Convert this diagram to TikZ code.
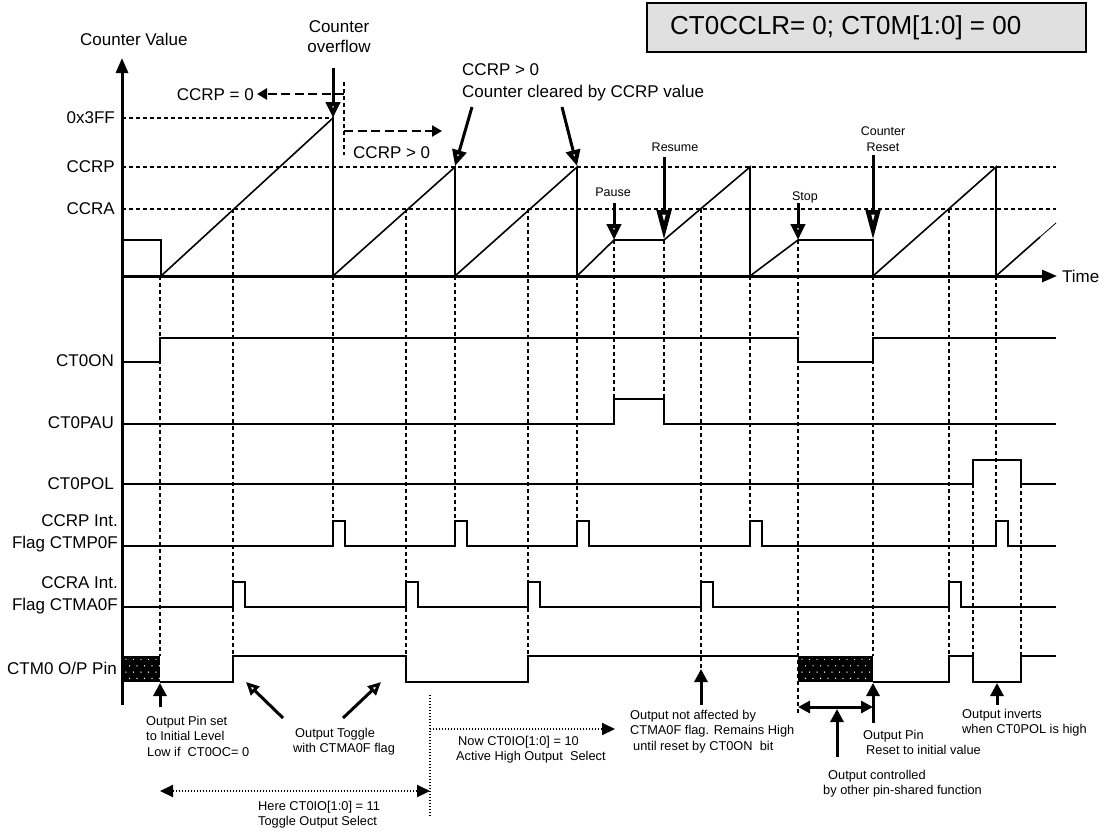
\documentclass[tikz,border=0pt]{standalone}
\usepackage{fontspec}
\setmainfont{Liberation Sans}
\usetikzlibrary{arrows.meta}
\begin{document}
\begin{tikzpicture}[x=1pt,y=-1pt,
  sig/.style={line width=1.4pt},
  saw/.style={line width=1.6pt},
  axis/.style={line width=3pt,-{Triangle[length=15pt,width=12pt]}},
  vdash/.style={line width=1.3pt,dash pattern=on 4pt off 3pt},
  tdash/.style={line width=2.6pt,dash pattern=on 9pt off 4.5pt},
  marker/.style={line width=3pt,-{Triangle[open,line width=4.5pt,length=16pt,width=14pt]}},
  longmarker/.style={line width=3pt,-{Triangle[open,line width=4.5pt,length=30pt,width=14pt]}},
  ann/.style={line width=3pt,-{Triangle[length=13pt,width=13pt]}},
  dotl/.style={line width=2pt,dash pattern=on 1.4pt off 1.6pt},
  lbl/.style={inner sep=0pt,font=\fontsize{17}{22}\selectfont},
  note/.style={inner sep=0pt,font=\fontsize{12.8}{15.5}\selectfont,align=left},
  tag/.style={inner sep=0pt,font=\fontsize{12.5}{16}\selectfont,align=center}]
\useasboundingbox (0,0) rectangle (1110,835);

% ---------- title box
\node[draw,line width=1.6pt,fill=black!12,minimum width=439pt,minimum height=49pt,inner sep=0pt] (titlebox) at (866.5,27.5) {};
\node[inner sep=0pt,anchor=west,font=\fontsize{26}{30}\selectfont] (title) at (670,28) {CT0CCLR= 0; CT0M[1:0] = 00};

% ---------- axes
\coordinate (origin) at (122,276);
\coordinate (ytop) at (122,58);
\coordinate (ybot) at (122,705);
\coordinate (xend) at (1057,276);
\draw[axis] (ybot) -- (ytop);
\draw[axis] (origin) -- (xend);
\node[lbl,anchor=west] (time) at (1062,276) {Time};
\node[lbl,anchor=west] (cv) at (80,39) {Counter Value};

% ---------- level lines
\node[lbl,anchor=east] (l3ff) at (115,118) {0x3FF};
\node[lbl,anchor=east] (lccrp) at (115,167) {CCRP};
\node[lbl,anchor=east] (lccra) at (115,209) {CCRA};
\draw[vdash] (122,118) -- (333,118);
\draw[vdash] (122,167) -- (1056,167);
\draw[vdash] (122,209) -- (1056,209);

% ---------- vertical dashed event lines
\foreach \x/\ya/\yb in {160/276/656, 233/209/656, 333/276/521, 406/209/656,
  455/276/521, 528/209/656, 577/276/521, 614/240/399, 664/240/399,
  701/209/668, 750/276/521, 798/240/715, 873/276/656, 949/209/656,
  973/484/656, 996/276/521, 1021/484/656}
  \draw[vdash] (\x,\ya) -- (\x,\yb);

% ---------- counter sawtooth
\draw[saw] (122,240) -- (161,240) -- (161,276) -- (333,118) -- (333,276)
  -- (455,167) -- (455,276) -- (577,167) -- (577,276) -- (614,240) -- (664,240)
  -- (750,167) -- (750,276) -- (798,240) -- (873,240) -- (873,276)
  -- (996,167) -- (996,276) -- (1040,237);
\draw[line width=0.8pt] (1040,237) -- (1056,223);

% ---------- top annotations
\node[lbl,align=center,font=\fontsize{17}{20}\selectfont] (ovf) at (339,37) {Counter\\overflow};
\coordinate (ovfA) at (333,68); \coordinate (ovfB) at (333,118);
\draw[marker] (ovfA) -- (ovfB);

\coordinate (splitT) at (344,82); \coordinate (splitB) at (344,155);
\draw[vdash] (splitT) -- (splitB);
\coordinate (eqS) at (344,94); \coordinate (eqE) at (257,94);
\coordinate (gtS) at (344,131); \coordinate (gtE) at (442,131);
\draw[tdash,-{Triangle[length=10pt,width=11pt]}] (eqS) -- (eqE);
\draw[tdash,-{Triangle[length=10pt,width=11pt]}] (gtS) -- (gtE);
\node[lbl,anchor=east] (ccrp0) at (254,95) {CCRP = 0};
\node[lbl,anchor=west] (ccrpgt) at (353,153) {CCRP > 0};

\node[lbl,anchor=west,align=left,font=\fontsize{17}{22}\selectfont] (clr) at (462,82) {CCRP > 0\\Counter cleared by CCRP value};
\coordinate (c1a) at (472,107); \coordinate (c1b) at (455,166);
\coordinate (c2a) at (562,107); \coordinate (c2b) at (577,166);
\draw[marker] (c1a) -- (c1b);
\draw[marker] (c2a) -- (c2b);

\node[tag] (pause) at (613,192) {Pause};
\node[tag] (resume) at (675,147) {Resume};
\node[tag] (stop) at (805,197) {Stop};
\node[tag] (creset) at (883,139) {Counter\\Reset};
\coordinate (pA) at (614,203); \coordinate (pB) at (614,240);
\coordinate (rA) at (664,157); \coordinate (rB) at (664,240);
\coordinate (sA) at (798,203); \coordinate (sB) at (798,240);
\coordinate (cA) at (873,155); \coordinate (cB) at (873,240);
\draw[marker] (pA) -- (pB);
\draw[longmarker] (rA) -- (rB);
\draw[marker] (sA) -- (sB);
\draw[longmarker] (cA) -- (cB);

% ---------- signal labels
\node[lbl,anchor=east] (son) at (114,361) {CT0ON};
\node[lbl,anchor=east] (spau) at (114,423) {CT0PAU};
\node[lbl,anchor=east] (spol) at (114,484) {CT0POL};
\node[lbl,anchor=east,align=right] (sccrp) at (118,533) {CCRP Int.\\Flag CTMP0F};
\node[lbl,anchor=east,align=right] (sccra) at (118,595) {CCRA Int.\\Flag CTMA0F};
\node[lbl,anchor=east] (spin) at (117,668) {CTM0 O/P Pin};

% ---------- waveforms
\draw[sig] (122,362) -- (160,362) -- (160,338) -- (798,338) -- (798,362) -- (873,362) -- (873,338) -- (1056,338);
\draw[sig] (122,424) -- (614,424) -- (614,399) -- (664,399) -- (664,424) -- (1056,424);
\draw[sig] (122,484) -- (973,484) -- (973,460) -- (1021,460) -- (1021,484) -- (1056,484);
\draw[sig] (122,546)
  \foreach \p in {333,455,577,750,996} { -- (\p,546) -- (\p,521) -- (\p+12,521) -- (\p+12,546) }
  -- (1056,546);
\draw[sig] (122,607)
  \foreach \p in {233,406,528,701,949} { -- (\p,607) -- (\p,582) -- (\p+12,582) -- (\p+12,607) }
  -- (1056,607);
\draw[sig] (160,682) -- (233,682) -- (233,656) -- (406,656) -- (406,682) -- (528,682) -- (528,656) -- (798,656);
\draw[sig] (873,682) -- (949,682) -- (949,656) -- (973,656) -- (973,682) -- (1021,682) -- (1021,656) -- (1056,656);

% dotted (undefined output) boxes
\foreach \xa/\xb in {122/160,798/873}{
  \fill[black] (\xa,656) rectangle (\xb,682);
  \foreach \r in {0,1,2,3}{
    \foreach \c in {0,...,10}{
      \pgfmathsetmacro\dx{\xa+4+7.5*\c+3.5*mod(\r,2)}
      \ifdim\dx pt<\xb pt \fill[white] (\dx,659.5+6.3*\r) circle[radius=0.7pt];\fi
    }
  }
}

% ---------- bottom annotations
\coordinate (a1s) at (160,707); \coordinate (a1e) at (160,683);
\draw[ann] (a1s) -- (a1e);
\node[note,anchor=north west] (n1) at (146,716) {Output Pin set\\to Initial Level\\\hspace{1pt}Low if\ \ CT0OC= 0};

\node[note,anchor=north west] (n2) at (293,728) {\hspace{2pt}Output Toggle\\with CTMA0F flag};
\coordinate (t1s) at (283,718); \coordinate (t1e) at (246,682);
\coordinate (t2s) at (343,718); \coordinate (t2e) at (381,682);
\draw[line width=3pt,-{Triangle[open,line width=3pt,length=13pt,width=12pt]}] (t1s) -- (t1e);
\draw[line width=3pt,-{Triangle[open,line width=3pt,length=13pt,width=12pt]}] (t2s) -- (t2e);

\coordinate (dvT) at (430,695); \coordinate (dvB) at (430,817);
\draw[dotl] (dvT) -- (dvB);
\coordinate (h1) at (160,791); \coordinate (h2) at (430,791);
\draw[dotl,{Triangle[length=13pt,width=12pt]}-{Triangle[length=13pt,width=12pt]}] (h1) -- (h2);
\node[note,anchor=north west] (n3) at (258,801) {Here CT0IO[1:0] = 11\\Toggle Output Select};

\coordinate (nw1) at (430,729); \coordinate (nw2) at (615,729);
\draw[dotl,-{Triangle[length=13pt,width=12pt]}] (nw1) -- (nw2);
\node[note,anchor=north west] (n4) at (456,736) {\hspace{2pt}Now CT0IO[1:0] = 10\\Active High Output\ \ Select};

\coordinate (a4s) at (701,705); \coordinate (a4e) at (701,669);
\draw[ann] (a4s) -- (a4e);
\node[note,anchor=north west] (n5) at (630,710) {Output not affected by\\CTMA0F flag. Remains High\\\hspace{3pt}until reset by CT0ON\ \ bit};

\coordinate (d1) at (798,707); \coordinate (d2) at (873,707);
\draw[line width=3pt,{Triangle[length=12pt,width=12pt]}-{Triangle[length=12pt,width=12pt]}] (d1) -- (d2);
\coordinate (a6s) at (837,757); \coordinate (a6e) at (837,709);
\draw[ann] (a6s) -- (a6e);
\coordinate (a7s) at (873,723); \coordinate (a7e) at (873,683);
\draw[ann] (a7s) -- (a7e);
\node[note,anchor=north west] (n6) at (863,730) {Output Pin\\\hspace{3pt}Reset to initial value};
\node[note,anchor=north west] (n7) at (823,770) {\hspace{5pt}Output controlled\\by other pin-shared function};

\coordinate (a8s) at (997,705); \coordinate (a8e) at (997,683);
\draw[ann] (a8s) -- (a8e);
\node[note,anchor=north west] (n8) at (962,709) {Output inverts\\when CT0POL is high};
\end{tikzpicture}
\end{document}
